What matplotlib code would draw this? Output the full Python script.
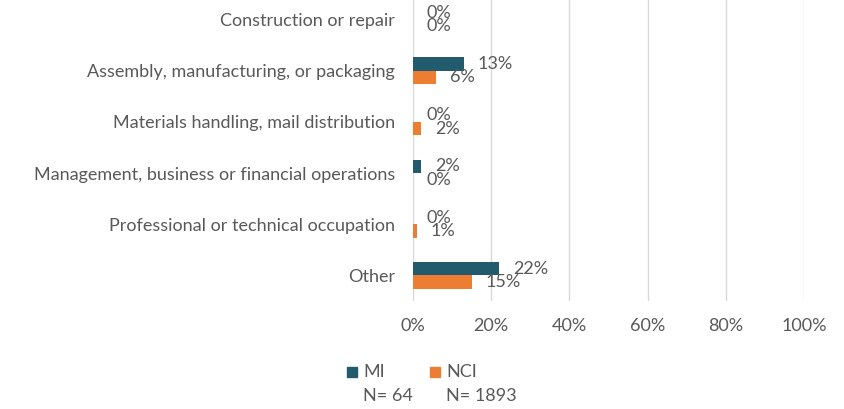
import matplotlib.pyplot as plt
from matplotlib.patches import Rectangle
import numpy as np

    #========= DATA ======================================================#

categories = ["Construction or repair",
              "Assembly, manufacturing, or packaging",
              "Materials handling, mail distribution",
              "Management, business or financial operations",
              "Professional or technical occupation",
              "Other"]
mi_values = [0, 13, 0, 2, 0, 22]
nci_values = [0, 6, 2, 0, 1, 15]
series_names = ["MI", "NCI"]
series_n = ["N= 64", "N= 1893"]
xticks = [0, 20, 40, 60, 80, 100]

    #========= STYLE =====================================================#

MI_COLOR = "#235B6E"
NCI_COLOR = "#ED7D31"
TEXT = "#595959"
GRID = "#D9D9D9"
FS = 13
plt.rcParams["font.family"] = ["Lato", "DejaVu Sans"]

    #========= FIGURE ====================================================#

fig = plt.figure(figsize=(8.44, 4.09), dpi=100)
ax = fig.add_axes([413/844, 1-301/409, 391/844, 307/409])

y = np.arange(len(categories))
h = 0.26
b1 = ax.barh(y-h/2, mi_values, height=h, color=MI_COLOR)
b2 = ax.barh(y+h/2, nci_values, height=h, color=NCI_COLOR)

for bars, vals in [(b1, mi_values), (b2, nci_values)]:
    for bar, v in zip(bars, vals):
        ax.annotate(f"{v}%", (v, bar.get_y()+bar.get_height()/2),
                    xytext=(10, 0), textcoords="offset points",
                    ha="left", va="center", fontsize=FS, color=TEXT)

ax.set_ylim(len(categories)-0.5, -0.5)
ax.set_xlim(0, 100)
ax.set_yticks(y)
ax.set_yticklabels(categories, fontsize=FS, color=TEXT)
ax.set_xticks(xticks)
ax.set_xticklabels([f"{t}%" for t in xticks], fontsize=FS, color=TEXT)
ax.tick_params(length=0)
ax.tick_params(axis="y", pad=13)
ax.tick_params(axis="x", pad=12)
ax.grid(axis="x", color=GRID, linewidth=1)
ax.set_axisbelow(True)
for s in ax.spines.values():
    s.set_visible(False)

# legend
W, H = 844, 409
for name, n, color, x0 in zip(series_names, series_n, [MI_COLOR, NCI_COLOR], [347, 430]):
    fig.patches.append(Rectangle((x0/W, 1-377/H), 10/W, 10/H, transform=fig.transFigure,
                                 color=color))
    fig.text((x0+16)/W, 1-372/H, name, fontsize=FS, color=TEXT, va="center")
    fig.text((x0+16)/W, 1-396/H, n, fontsize=FS, color=TEXT, va="center")

plt.savefig("out.png")
